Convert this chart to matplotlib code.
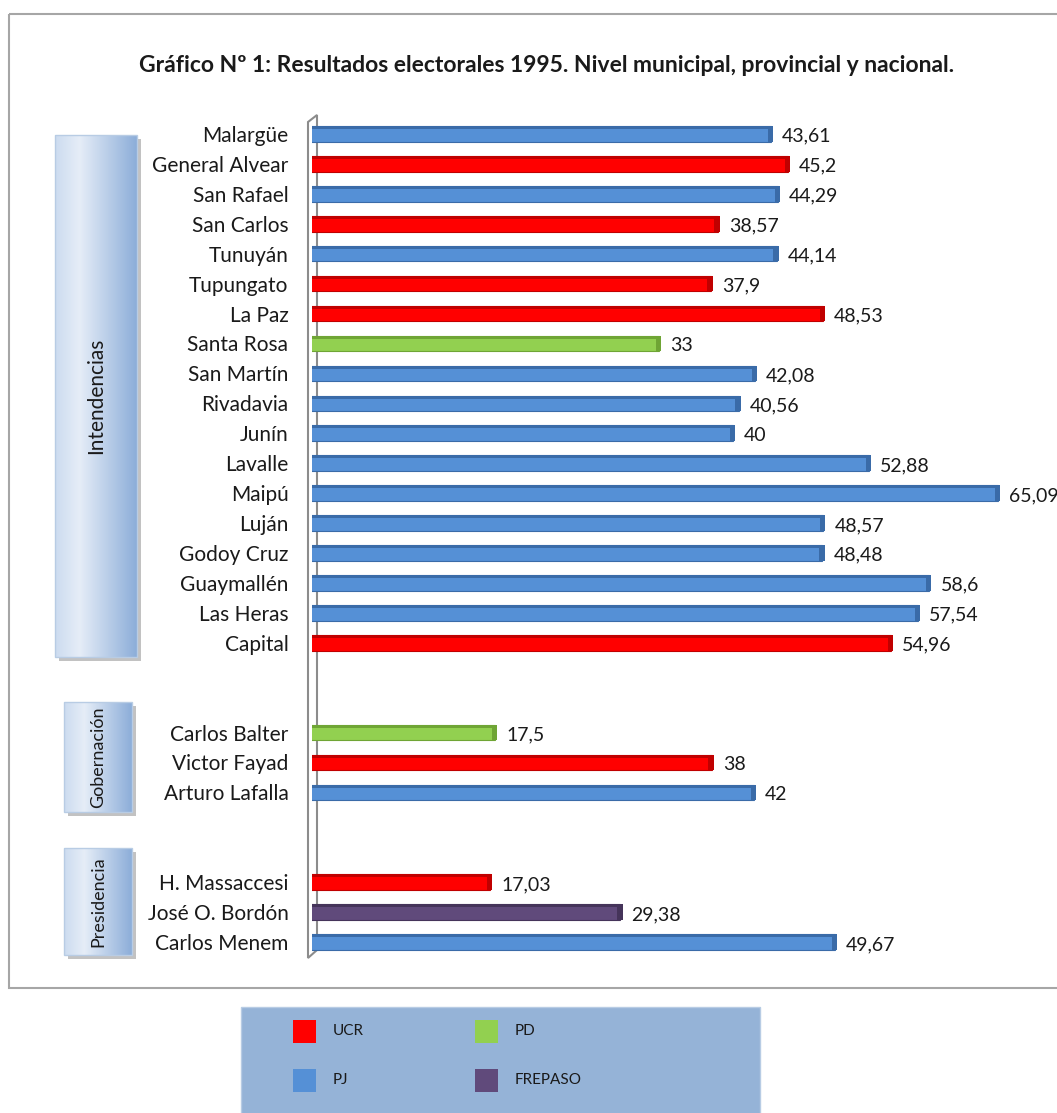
import numpy as np
import matplotlib.pyplot as plt
from matplotlib.patches import Rectangle, Polygon

plt.rcParams['font.family'] = ['Lato', 'DejaVu Sans']

# rows from top to bottom, '' = empty spacer row
labels = ['Malargüe', 'General Alvear', 'San Rafael', 'San Carlos', 'Tunuyán',
          'Tupungato', 'La Paz', 'Santa Rosa', 'San Martín', 'Rivadavia', 'Junín',
          'Lavalle', 'Maipú', 'Luján', 'Godoy Cruz', 'Guaymallén', 'Las Heras',
          'Capital', '', '',
          'Carlos Balter', 'Victor Fayad', 'Arturo Lafalla', '', '',
          'H. Massaccesi', 'José O. Bordón', 'Carlos Menem']
values = [43.61, 45.2, 44.29, 38.57, 44.14, 37.9, 48.53, 33, 42.08, 40.56, 40,
          52.88, 65.09, 48.57, 48.48, 58.6, 57.54, 54.96, None, None,
          17.5, 38, 42, None, None,
          17.03, 29.38, 49.67]
value_text = ['43,61', '45,2', '44,29', '38,57', '44,14', '37,9', '48,53', '33',
              '42,08', '40,56', '40', '52,88', '65,09', '48,57', '48,48', '58,6',
              '57,54', '54,96', '', '', '17,5', '38', '42', '', '',
              '17,03', '29,38', '49,67']
parties = ['PJ', 'UCR', 'PJ', 'UCR', 'PJ', 'UCR', 'UCR', 'PD', 'PJ', 'PJ', 'PJ',
           'PJ', 'PJ', 'PJ', 'PJ', 'PJ', 'PJ', 'UCR', '', '',
           'PD', 'UCR', 'PJ', '', '',
           'UCR', 'FREPASO', 'PJ']
colors = {'UCR': '#FF0000', 'PJ': '#5590D6', 'PD': '#92D050', 'FREPASO': '#604A7B'}
edges = {'UCR': '#C00000', 'PJ': '#3A6BA8', 'PD': '#6FA535', 'FREPASO': '#45345A'}
groups = [('Intendencias', 135, 657, 55, 137, 15),
          ('Gobernación', 702, 812, 64, 132, 13),
          ('Presidencia', 848, 955, 64, 132, 13)]

W, H = 1057, 1113
fig = plt.figure(figsize=(W / 100, H / 100), dpi=100)

# outer frame
frame = fig.add_axes([0, 0, 1, 1])
frame.set_xlim(0, W)
frame.set_ylim(H, 0)
frame.axis('off')
frame.add_patch(Rectangle((9, 14), W + 20, 974, fill=False, ec='#A6A6A6', lw=1.5))

frame.text(547, 65, 'Gráfico Nº 1: Resultados electorales 1995. Nivel municipal, provincial y nacional.',
           ha='center', va='center', fontsize=16.5, fontweight='bold', color='#1a1a1a')

# wall of the 3D axis
frame.add_patch(Polygon([(308, 122), (317, 115), (317, 950), (308, 958)],
                        closed=True, fc='white', ec='#8C8C8C', lw=1.5))

# group boxes with gradient
grad = np.linspace(0, 1, 256)
cl = np.array([0.80, 0.86, 0.94])
cm_ = np.array([0.90, 0.93, 0.97])
cr = np.array([0.55, 0.68, 0.85])
img = np.zeros((1, 256, 3))
for k, t in enumerate(grad):
    if t < 0.3:
        img[0, k] = cl + (cm_ - cl) * t / 0.3
    else:
        img[0, k] = cm_ + (cr - cm_) * (t - 0.3) / 0.7
for name, y0, y1, x0, x1, fs in groups:
    frame.add_patch(Rectangle((x0 + 4, y0 + 4), x1 - x0, y1 - y0, fc='#9a9a9a', ec='none', alpha=0.6))
    frame.imshow(img, extent=(x0, x1, y1, y0), aspect='auto', zorder=2)
    frame.add_patch(Rectangle((x0, y0), x1 - x0, y1 - y0, fill=False, ec='#B8CCE4', lw=1, zorder=3))
    frame.text((x0 + x1) / 2, (y0 + y1) / 2, name, rotation=90, ha='center', va='center',
               fontsize=fs, color='#1a1a1a', zorder=4)
frame.set_xlim(0, W)
frame.set_ylim(H, 0)

# main bar axes
ax = fig.add_axes([312 / W, 1 - 957 / H, 740 / W, 838 / H])
ax.patch.set_alpha(0)
n = len(labels)
y = np.arange(n)
for i in range(n):
    if values[i] is None:
        continue
    p = parties[i]
    ax.barh(y[i], values[i], height=0.52, left=-0.2, color=colors[p],
            edgecolor=edges[p], linewidth=0.8, zorder=3)
    ax.barh(y[i] - 0.21, values[i], height=0.1, left=-0.2, color=edges[p], lw=0, zorder=3)
    ax.barh(y[i], 0.5, height=0.52, left=values[i] - 0.5, color=edges[p], lw=0, zorder=3)
    ax.text(values[i] + 0.85, y[i] + 0.08, value_text[i], va='center', ha='left',
            fontsize=14, color='#1a1a1a')
ax.set_xlim(0, 70)
ax.set_ylim(n - 0.5, -0.5)
ax.set_yticks(y)
ax.set_yticklabels(labels, fontsize=15, color='#1a1a1a')
ax.tick_params(axis='y', length=0, pad=17)
ax.set_xticks([])
for s in ax.spines.values():
    s.set_visible(False)

# legend box
frame.add_patch(Rectangle((241, 1007), 519, 120, fc='#95B3D7', ec='#B8CCE4', lw=1, zorder=1))
leg = [('UCR', 293, 1020), ('PD', 475, 1020), ('PJ', 293, 1069), ('FREPASO', 475, 1069)]
for name, lx, ly in leg:
    frame.add_patch(Rectangle((lx, ly), 23, 23, fc=colors[name], ec='none', zorder=2))
    frame.text(lx + 40, ly + 11, name, va='center', ha='left', fontsize=11, color='#1a1a1a')

fig.savefig('out.png', dpi=100)
